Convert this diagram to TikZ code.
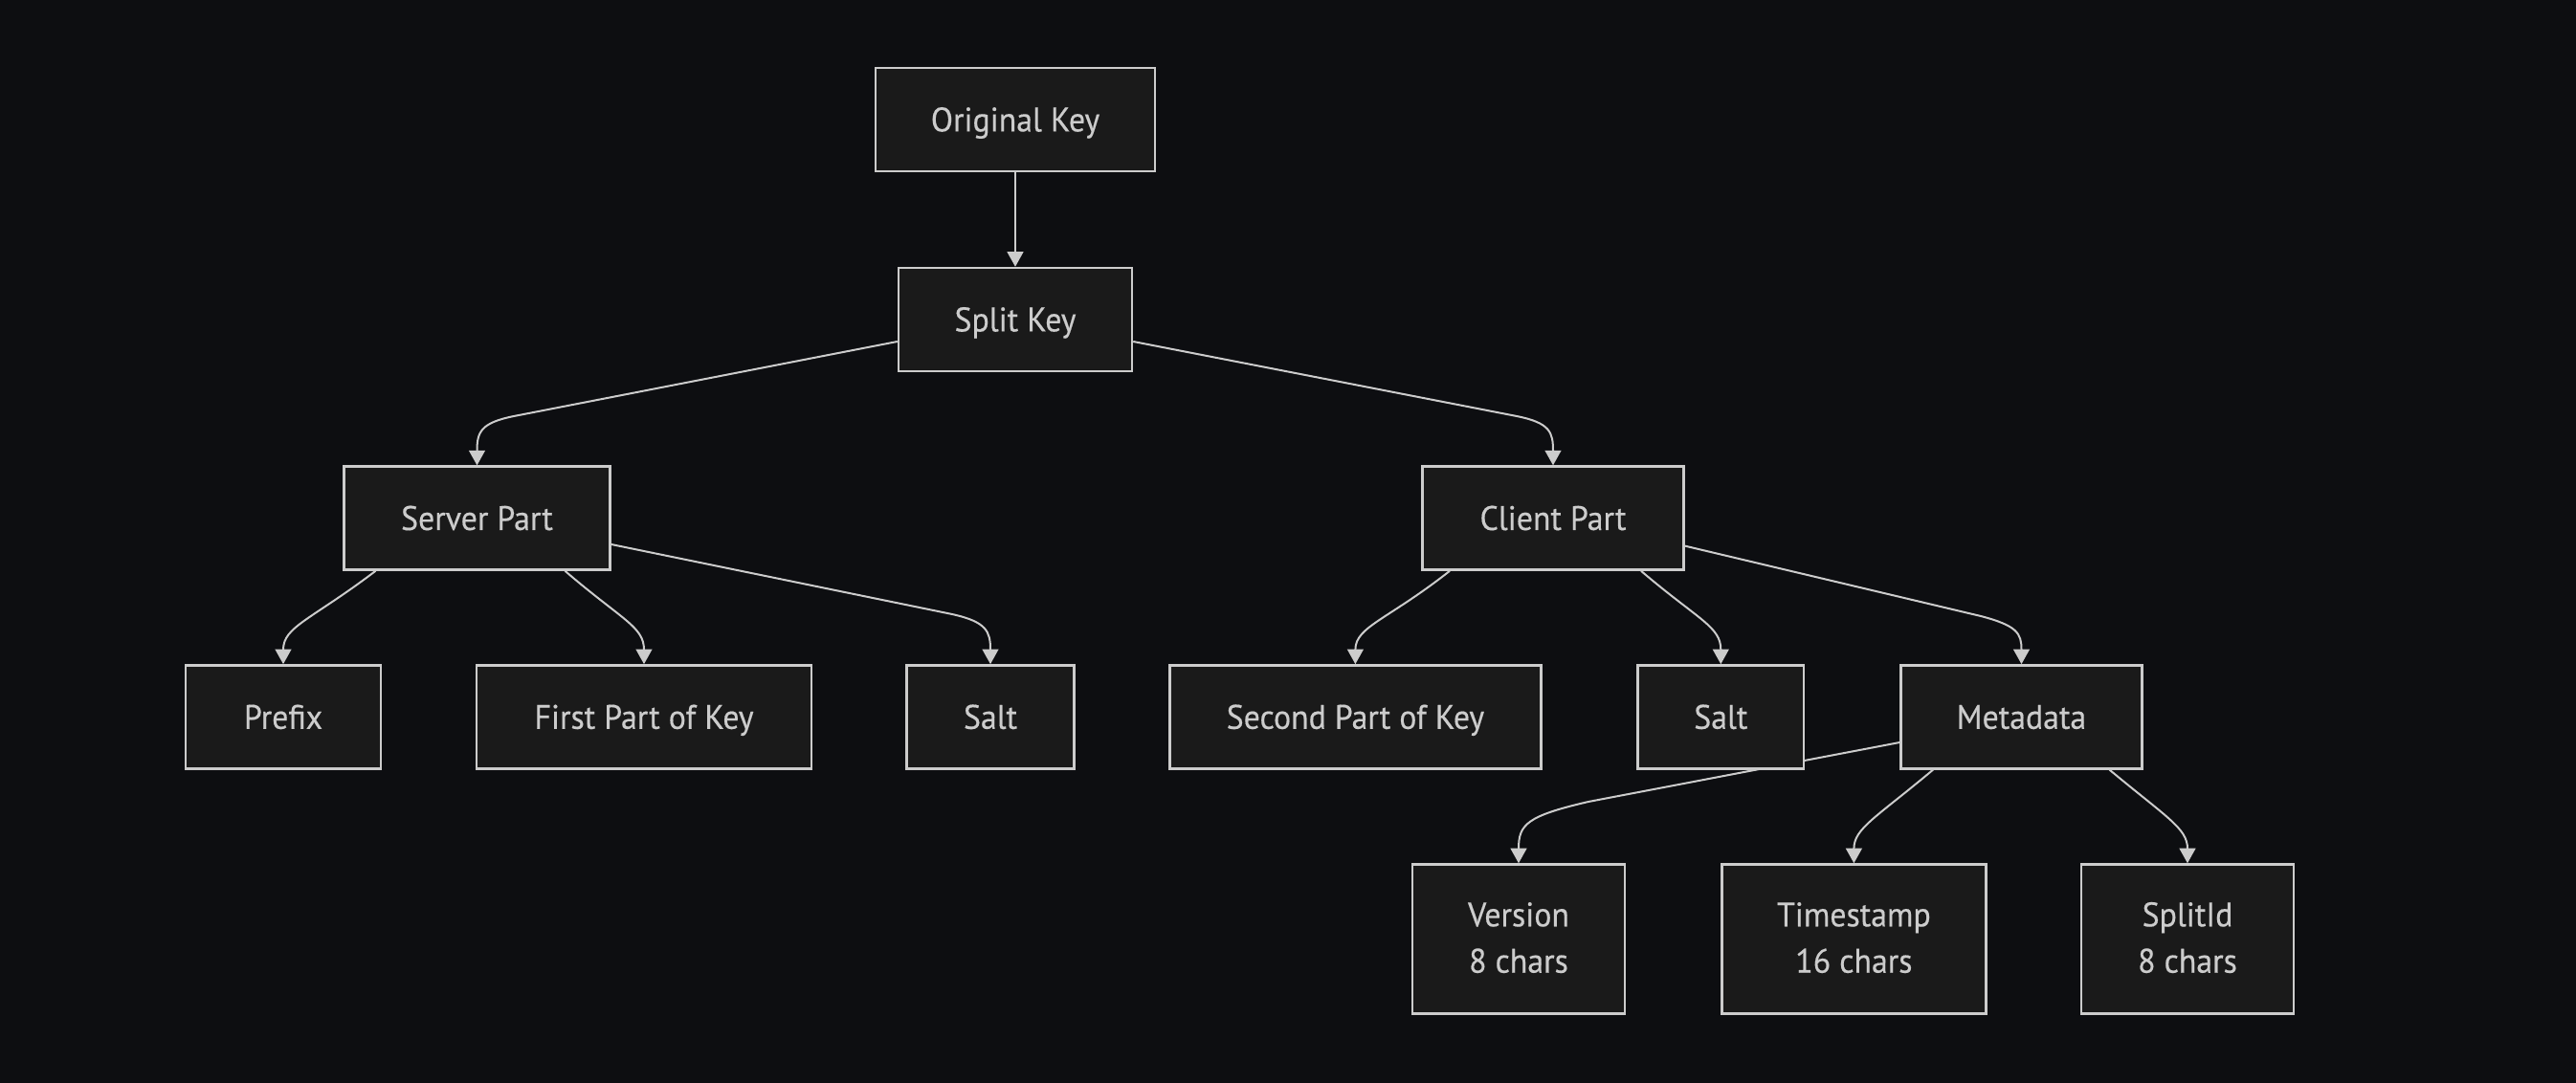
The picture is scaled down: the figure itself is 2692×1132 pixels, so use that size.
\documentclass[tikz,border=0pt]{standalone}
\usepackage{fontspec}
\setmainfont{PT Sans}[FakeStretch=0.95,FakeBold=0.4]
\usetikzlibrary{arrows.meta}
\definecolor{bgc}{RGB}{13,14,17}
\definecolor{boxfill}{RGB}{26,26,26}
\definecolor{boxline}{RGB}{204,204,204}
\definecolor{txt}{RGB}{204,204,204}
\definecolor{edgec}{RGB}{204,204,204}
\pgfdeclarelayer{bglayer}
\pgfdeclarelayer{edgelayer}
\pgfsetlayers{bglayer,edgelayer,main}
\begin{document}
\begin{tikzpicture}[x=0.25pt,y=-0.25pt,
  box/.style={draw=boxline,fill=boxfill,line width=0.6pt,text=txt,inner sep=0pt,
    minimum height=27pt,align=center,font=\fontsize{8.9}{12.1}\selectfont,
    text height=8pt,text depth=1.8pt},
  tall/.style={minimum height=39pt,text height=20.1pt,text depth=2.5pt},
  conn/.style={draw=edgec,line width=0.5pt,-{Triangle[length=3.9pt,width=4.2pt]}}]
\begin{pgfonlayer}{bglayer}
\fill[bgc] (0,0) rectangle (2692,1132);
\end{pgfonlayer}
\useasboundingbox (0,0) rectangle (2692,1132);

\node[box,minimum width=73pt] (orig) at (1061,125) {Original Key};
\node[box,minimum width=61pt] (split) at (1061,334) {Split Key};
\node[box,minimum width=69.5pt] (server) at (498.5,541.6) {Server Part};
\node[box,minimum width=68.25pt] (client) at (1623,541.6) {Client Part};
\node[box,minimum width=51pt] (prefix) at (296,749.4) {Prefix};
\node[box,minimum width=87.5pt] (first) at (673,749.4) {First Part of Key};
\node[box,minimum width=43.75pt] (saltl) at (1035,749.4) {Salt};
\node[box,minimum width=97pt] (second) at (1416.4,749.4) {Second Part of Key};
\node[box,minimum width=43.35pt] (saltr) at (1798.3,749.4) {Salt};
\node[box,minimum width=63pt] (meta) at (2112.5,749.4) {Metadata};
\node[box,tall,minimum width=55.4pt] (version) at (1587,981.5) {Version\\8 chars};
\node[box,tall,minimum width=69pt] (timestamp) at (1937.4,981.5) {Timestamp\\16 chars};
\node[box,tall,minimum width=55.4pt] (splitid) at (2286,981.5) {SplitId\\8 chars};

\begin{pgfonlayer}{edgelayer}
\draw[conn] (orig) -- (split);
\draw[conn] ([yshift=-5.75pt]split.west) -- (537,435) .. controls (502,442) and (498.5,452) .. (server.north);
\draw[conn] ([yshift=-5.75pt]split.east) -- (1585,435) .. controls (1620,442) and (1623,452) .. (client.north);
\draw[conn] ([xshift=-26.5pt]server.south) .. controls (325,648) and (296,655) .. (prefix.north);
\draw[conn] ([xshift=23pt]server.south) .. controls (650,648) and (673,655) .. (first.north);
\draw[conn] ([yshift=-6.85pt]server.east) -- (995,642) .. controls (1031,650) and (1035,660) .. (saltl.north);
\draw[conn] ([xshift=-27pt]client.south) .. controls (1450,648) and (1416.4,655) .. (second.north);
\draw[conn] ([xshift=23pt]client.south) .. controls (1775,648) and (1798.3,655) .. (saltr.north);
\draw[conn] ([yshift=-7.25pt]client.east) -- (2070,644) .. controls (2108,654) and (2112.5,662) .. (meta.north);
\draw[conn] ([yshift=-6.65pt]meta.west) -- (1660,838) .. controls (1595,853) and (1587,862) .. (version.north);
\draw[conn] ([xshift=-23.1pt]meta.south) .. controls (1960,855) and (1937.4,866) .. (timestamp.north);
\draw[conn] ([xshift=23pt]meta.south) .. controls (2265,855) and (2286,866) .. (splitid.north);
\end{pgfonlayer}
\end{tikzpicture}
\end{document}
